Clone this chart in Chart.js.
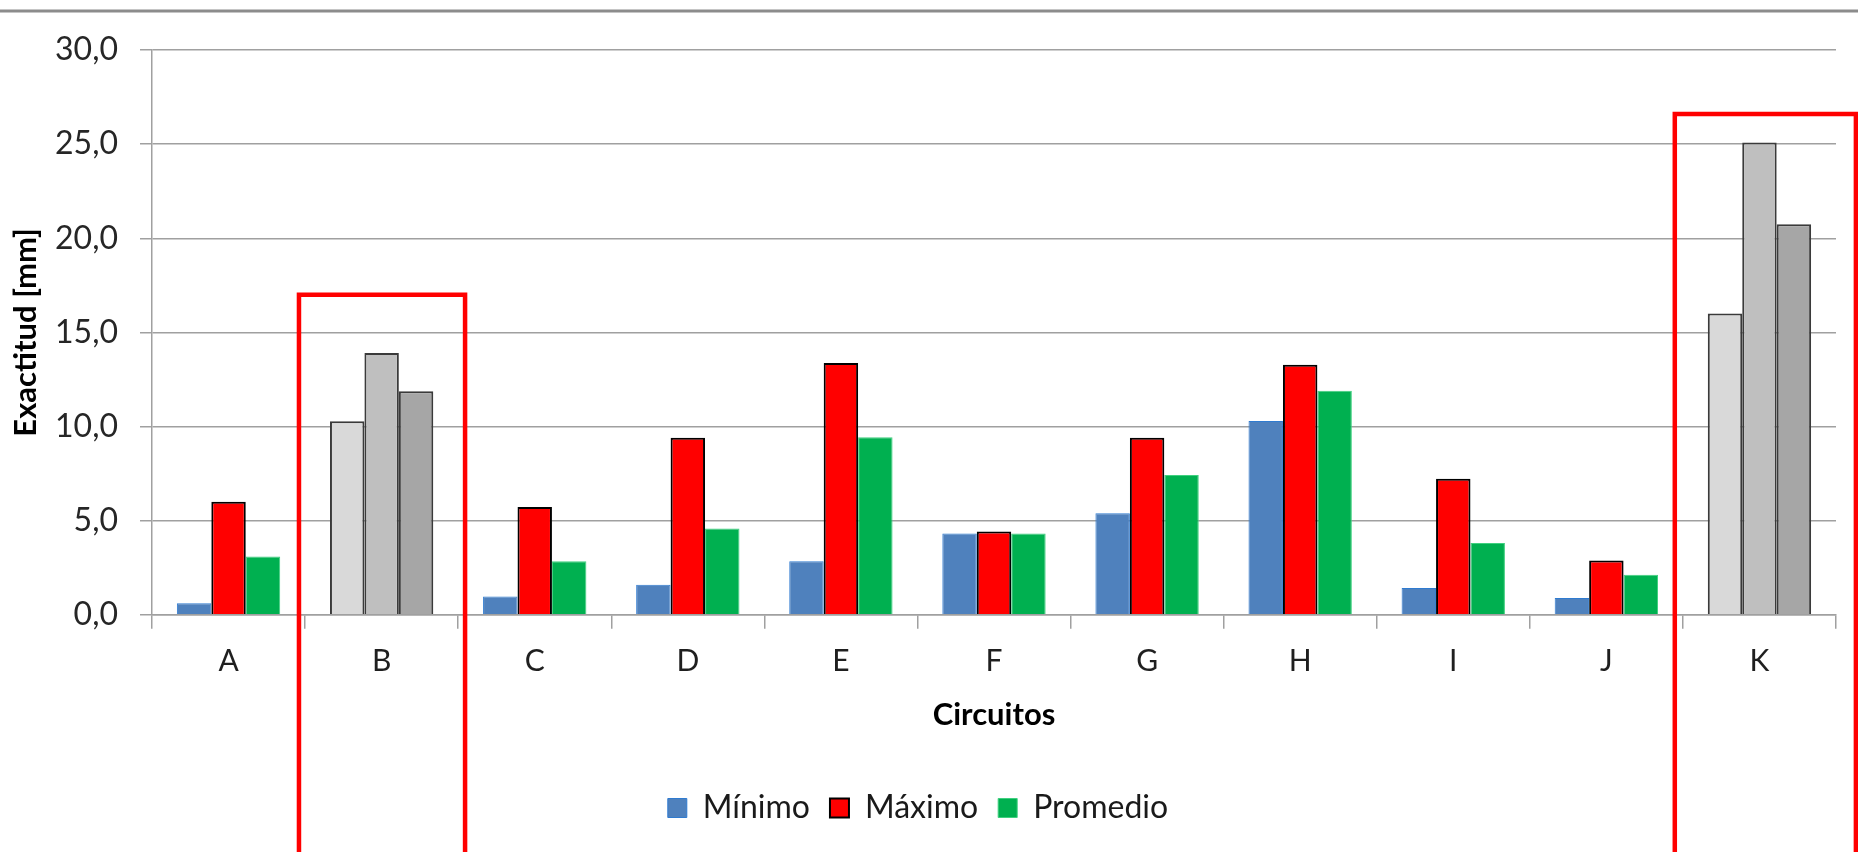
<!DOCTYPE html>
<html>
<head>
<meta charset="utf-8">
<script src="https://cdn.jsdelivr.net/npm/chart.js@4/dist/chart.umd.min.js"></script>
<style>
  html, body { margin: 0; padding: 0; background: #ffffff; }
  #wrap { width: 1858px; height: 852px; }
</style>
</head>
<body>
<div id="wrap"><canvas id="chart" width="1858" height="852"></canvas></div>
<script>
// Circuit labels along the x axis
const circuitos = ['A', 'B', 'C', 'D', 'E', 'F', 'G', 'H', 'I', 'J', 'K'];

// Exactitud [mm] per circuit
const minimo   = [0.62, 10.28, 0.97, 1.60, 2.84, 4.32, 5.39, 10.30, 1.42, 0.89, 16.00];
const maximo   = [6.00, 13.90, 5.73, 9.40, 13.37, 4.43, 9.41, 13.28, 7.22, 2.89, 25.09];
const promedio = [3.10, 11.88, 2.84, 4.59, 9.43, 4.32, 7.43, 11.90, 3.81, 2.13, 20.74];

// Y axis ticks
const yTicks = [0, 5, 10, 15, 20, 25, 30];

// Circuits singled out (drawn in grey and framed in red), with frame top value
const destacados = ['B', 'K'];
const marcoTope  = [17.0, 26.6];

const FONT = 'Lato, "Open Sans", sans-serif';
const isHi = i => destacados.includes(circuitos[i]);

function fillFor(normal, grey) {
  return ctx => (ctx.dataIndex !== undefined && isHi(ctx.dataIndex)) ? grey : normal;
}
function borderFor(normal) {
  return ctx => (ctx.dataIndex !== undefined && isHi(ctx.dataIndex)) ? '#3a3a3a' : normal;
}
function widthFor(normal) {
  return ctx => (ctx.dataIndex !== undefined && isHi(ctx.dataIndex)) ? 2 : normal;
}

// Thin grey rule across the top of the frame
const topRule = {
  id: 'topRule',
  beforeDraw(chart) {
    const c = chart.ctx;
    c.save();
    c.fillStyle = '#ffffff';
    c.fillRect(0, 0, chart.width, chart.height);
    c.strokeStyle = '#8c8c8c';
    c.lineWidth = 3;
    c.beginPath();
    c.moveTo(0, 11);
    c.lineTo(chart.width, 11);
    c.stroke();
    c.restore();
  }
};

// Red frames around the highlighted circuits
const frames = {
  id: 'frames',
  afterDraw(chart, args, opts) {
    const x = chart.scales.x, y = chart.scales.y;
    const cw = x.getPixelForValue(1) - x.getPixelForValue(0);
    const c = chart.ctx;
    c.save();
    c.strokeStyle = '#ff0000';
    c.lineWidth = 4.5;
    c.lineJoin = 'miter';
    opts.boxes.forEach((b, k) => {
      const idx = circuitos.indexOf(destacados[k]);
      const cx = x.getPixelForValue(idx);
      const l = cx + b.from * cw, r = cx + b.to * cw;
      const t = y.getPixelForValue(marcoTope[k]);
      c.beginPath();
      c.moveTo(l, chart.height + 10);
      c.lineTo(l, t);
      c.lineTo(r, t);
      c.lineTo(r, chart.height + 10);
      c.stroke();
    });
    c.restore();
  }
};

new Chart(document.getElementById('chart'), {
  type: 'bar',
  data: {
    labels: circuitos,
    datasets: [
      {
        label: 'Mínimo',
        data: minimo,
        backgroundColor: fillFor('#4f81bd', '#d9d9d9'),
        borderColor: borderFor('#2f7bd0'),
        borderWidth: widthFor(1)
      },
      {
        label: 'Máximo',
        data: maximo,
        backgroundColor: fillFor('#ff0000', '#bfbfbf'),
        borderColor: borderFor('#000000'),
        borderWidth: widthFor(2)
      },
      {
        label: 'Promedio',
        data: promedio,
        backgroundColor: fillFor('#00b050', '#a6a6a6'),
        borderColor: borderFor('#3fd07f'),
        borderWidth: widthFor(1)
      }
    ]
  },
  options: {
    responsive: false,
    animation: false,
    devicePixelRatio: 1,
    layout: { padding: { top: 50, right: 22, bottom: 18, left: 0 } },
    datasets: {
      bar: { categoryPercentage: 0.675, barPercentage: 1.0 }
    },
    scales: {
      x: {
        grid: {
          display: true,
          drawOnChartArea: false,
          drawTicks: true,
          tickLength: 14,
          color: '#a0a0a0',
          lineWidth: 1.5,
          offset: true
        },
        border: { display: true, color: '#a0a0a0', width: 1.5 },
        ticks: {
          color: '#1f1f1f',
          font: { family: FONT, size: 30 },
          padding: 15
        },
        title: {
          display: true,
          text: 'Circuitos',
          color: '#000000',
          font: { family: FONT, size: 31, weight: 'bold' },
          padding: { top: 2, bottom: 38 }
        }
      },
      y: {
        min: 0,
        max: 30,
        afterBuildTicks: s => { s.ticks = yTicks.map(v => ({ value: v })); },
        afterFit: s => { s.width = 152; },
        grid: {
          color: '#a0a0a0',
          lineWidth: 1.5,
          drawTicks: true,
          tickLength: 12
        },
        border: { display: true, color: '#a0a0a0', width: 1.5 },
        ticks: {
          color: '#262626',
          font: { family: FONT, size: 32 },
          padding: 22,
          callback: v => Number(v).toFixed(1).replace('.', ',')
        },
        title: {
          display: true,
          text: 'Exactitud [mm]',
          color: '#000000',
          font: { family: FONT, size: 31, weight: 'bold' },
          padding: { top: 7, bottom: 0 }
        }
      }
    },
    plugins: {
      legend: {
        position: 'bottom',
        labels: {
          color: '#1a1a1a',
          font: { family: FONT, size: 32 },
          boxWidth: 19,
          boxHeight: 19,
          padding: 20
        }
      },
      tooltip: { enabled: false },
      frames: {
        boxes: [
          { from: -0.54, to: 0.545 },
          { from: -0.553, to: 0.63 }
        ]
      }
    }
  },
  plugins: [topRule, frames]
});
</script>
</body>
</html>
